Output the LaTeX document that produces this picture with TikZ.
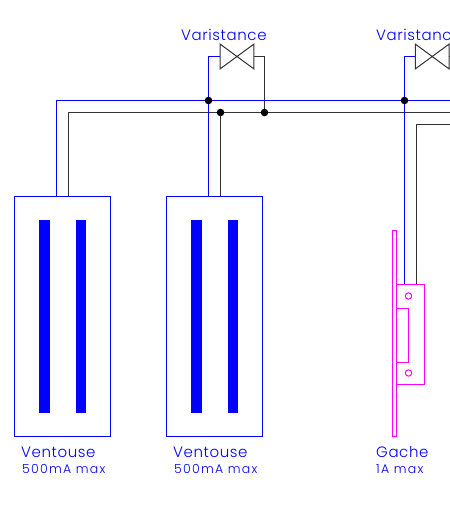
\documentclass[tikz,border=0pt]{standalone}
\usepackage{fontspec}
\setmainfont{Poppins}[LetterSpace=4,UprightFont=* Light]
\usetikzlibrary{shapes,backgrounds}
\definecolor{wireBlue}{RGB}{0,0,255}
\definecolor{wirePink}{RGB}{255,0,255}

\begin{document}
\begin{tikzpicture}[x=1pt,y=-1pt]

\def\ventsep{152}

\tikzstyle{blueWire}=[draw=wireBlue,line width=1pt]
\tikzstyle{blackWire}=[draw=black!80,line width=1pt]
\tikzstyle{pinkLine}=[draw=wirePink,line width=1pt]
\tikzstyle{junction}=[circle,fill=black,minimum size=7.6pt,inner sep=0pt]
\tikzstyle{ventouse}=[rectangle,draw=wireBlue,line width=1pt,minimum width=96pt,minimum height=240pt,inner sep=0pt]
\tikzstyle{coil}=[rectangle,fill=wireBlue,minimum width=10.6pt,minimum height=193pt,inner sep=0pt]
\tikzstyle{valve}=[rectangle,minimum width=33.4pt,minimum height=24.4pt,inner sep=0pt]
\tikzstyle{bigLabel}=[anchor=base west,inner sep=0pt,text=wireBlue,font=\fontsize{15}{16}\selectfont]
\tikzstyle{smallLabel}=[anchor=base west,inner sep=0pt,text=wireBlue,font=\fontsize{12.5}{13}\selectfont\addfontfeatures{LetterSpace=10}]

\useasboundingbox (0,0) rectangle (450,509);

%ventouse blocks
\node[ventouse] (ventA) at (62.5,316.5) {};
\node[ventouse] (ventB) at (62.5+\ventsep,316.5) {};
\node[coil] (coilA1) at (44.5,316.5) {};
\node[coil] (coilA2) at (81,316.5) {};
\node[coil] (coilB1) at (44.5+\ventsep,316.5) {};
\node[coil] (coilB2) at (81+\ventsep,316.5) {};

%varistances
\node[valve] (valveA) at (237,56.5) {};
\node[valve] (valveB) at (432.2,56.5) {};
\draw[blackWire] (valveA.north west) -- (valveA.south east) -- (valveA.north east) -- (valveA.south west) -- cycle;
\draw[blackWire] (valveB.north west) -- (valveB.south east) -- (valveB.north east) -- (valveB.south west) -- cycle;

%gache
\node[rectangle,pinkLine,minimum width=4pt,minimum height=206pt,inner sep=0pt] (gacheBar) at (394.5,333.5) {};
\node[rectangle,pinkLine,minimum width=28pt,minimum height=100pt,inner sep=0pt] (gachePlate) at (410.5,334.5) {};
\node[rectangle,pinkLine,minimum width=12pt,minimum height=54pt,inner sep=0pt] (gacheSlot) at (402.5,335.5) {};
\node[circle,pinkLine,minimum size=6.4pt,inner sep=0pt] (gacheHoleA) at (408.5,296) {};
\node[circle,pinkLine,minimum size=6.4pt,inner sep=0pt] (gacheHoleB) at (408.5,373) {};

%junctions
\node[junction] (dotBlueA) at (208.5,100.5) {};
\node[junction] (dotBlueB) at (404.5,100.5) {};
\node[junction] (dotBlackA) at (220.5,112.5) {};
\node[junction] (dotBlackB) at (264.5,112.5) {};

%free ends and corners
\coordinate (blueCorner) at (56.5,100.5);
\coordinate (blackCorner) at (68.5,112.5);
\coordinate (blueEnd) at (450,100.5);
\coordinate (blackEnd) at (450,112.5);
\coordinate (gacheCorner) at (416.5,124.5);
\coordinate (gacheEnd) at (450,124.5);
\coordinate (valveBEnd) at (450,56.5);

% connections
\begin{pgfonlayer}{background}
\draw[blackWire] (ventA.north -| blackCorner) -- (blackCorner) -- (dotBlackA.center) -- (dotBlackB.center) -- (blackEnd);
\draw[blackWire] (ventB.north -| dotBlackA) -- (dotBlackA.center);
\draw[blackWire] (valveA.east) -- (dotBlackB |- valveA) -- (dotBlackB.center);
\draw[blackWire] (valveB.east) -- (valveBEnd);
\draw[blackWire] (gachePlate.north -| gacheCorner) -- (gacheCorner) -- (gacheEnd);

\draw[blueWire] (ventA.north -| blueCorner) -- (blueCorner) -- (dotBlueA.center) -- (dotBlueB.center) -- (blueEnd);
\draw[blueWire] (ventB.north -| dotBlueA) -- (dotBlueA.center);
\draw[blueWire] (dotBlueA.center) -- (dotBlueA |- valveA) -- (valveA.west);
\draw[blueWire] (gachePlate.north -| dotBlueB) -- (dotBlueB.center) -- (dotBlueB |- valveB) -- (valveB.west);
\end{pgfonlayer}

%labels
\node[bigLabel] (varLabelA) at (181,40) {Varistance};
\node[bigLabel] (varLabelB) at (376,40) {Varistance};
\node[bigLabel] (ventLabelA) at (21,457) {Ventouse};
\node[smallLabel] (ventMaxA) at (22,473) {500mA max};
\node[bigLabel] (ventLabelB) at (21+\ventsep,457) {Ventouse};
\node[smallLabel] (ventMaxB) at (22+\ventsep,473) {500mA max};
\node[bigLabel] (gacheLabel) at (376,457) {Gache};
\node[smallLabel] (gacheMax) at (376,473) {1A max};

\end{tikzpicture}
\end{document}
